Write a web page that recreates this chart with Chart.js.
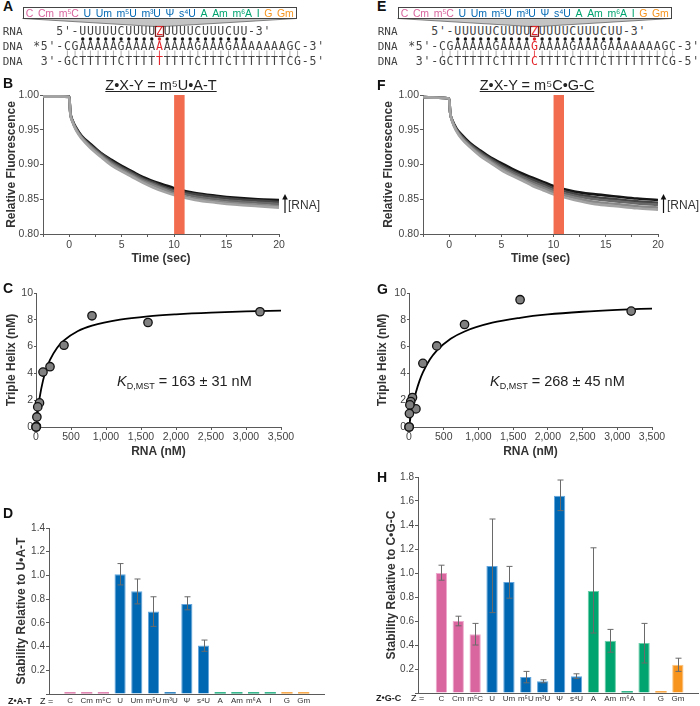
<!DOCTYPE html>
<html>
<head>
<meta charset="utf-8">
<title>Triplex stability</title>
<script src="https://cdn.jsdelivr.net/npm/chart.js@4.4.1/dist/chart.umd.min.js"></script>
<style>
  body { margin: 0; background: #fff; }
  #fig { position: relative; width: 700px; height: 706px; overflow: hidden; font-family: "Liberation Sans", Arial, sans-serif; color: #333; }
  #fig canvas { position: absolute; }
  .t { position: absolute; white-space: nowrap; line-height: 1; }
  .letter { font-weight: bold; font-size: 14px; color: #111; }
  .ttl { font-size: 14.5px; text-decoration: underline; transform: translateX(-50%); color: #222; }
  .kd { font-size: 14.5px; color: #222; }
  .kd sub { font-size: 9px; vertical-align: -3px; line-height: 1; }
  .seq { font-family: "DejaVu Sans Mono", monospace; font-size: 11.5px; letter-spacing: 0.75px; color: #444; white-space: pre; }
  .nm { font-family: "DejaVu Sans Mono", monospace; font-size: 11px; color: #444; }
  .red { color: #e3262b; }
  .mods { position: absolute; display: flex; justify-content: space-between; align-items: center; box-sizing: border-box; border: 1px solid #444; background: #fff; font-size: 10.5px; letter-spacing: -0.2px; padding: 0 2px; line-height: 1; }
  .zl { font-size: 9px; color: #222; }
</style>
</head>
<body>
<div id="fig">
  <svg id="deco" width="700" height="706" style="position:absolute;left:0;top:0"></svg>
  <canvas id="chartB" width="292" height="186" style="left:4px;top:80px"></canvas>
  <canvas id="chartF" width="294" height="186" style="left:381px;top:80px"></canvas>
  <canvas id="chartC" width="296" height="179" style="left:4px;top:280px"></canvas>
  <canvas id="chartG" width="300" height="179" style="left:375px;top:280px"></canvas>
  <canvas id="chartD" width="326" height="191" style="left:14px;top:515px"></canvas>
  <canvas id="chartH" width="316" height="241" style="left:384px;top:465px"></canvas>

  <div class="t letter" style="left:3px;top:-1px">A</div>
  <div class="t letter" style="left:3px;top:76px">B</div>
  <div class="t letter" style="left:3px;top:281px">C</div>
  <div class="t letter" style="left:3px;top:506px">D</div>
  <div class="t letter" style="left:377px;top:-1px">E</div>
  <div class="t letter" style="left:377px;top:78px">F</div>
  <div class="t letter" style="left:377px;top:282px">G</div>
  <div class="t letter" style="left:377px;top:470px">H</div>

  <div class="t ttl" style="left:161px;top:78px">Z•X-Y = m⁵U•A-T</div>
  <div class="t ttl" style="left:537px;top:78px">Z•X-Y = m⁵C•G-C</div>
  <div class="t" style="left:288px;top:199px;font-size:12px">[RNA]</div>
  <div class="t" style="left:667px;top:199px;font-size:12px">[RNA]</div>

  <div class="t kd" style="left:117px;top:374px"><i>K</i><sub>D,MST</sub> = 163 ± 31 nM</div>
  <div class="t kd" style="left:490px;top:374px"><i>K</i><sub>D,MST</sub> = 268 ± 45 nM</div>

  <div class="t zl" style="left:8px;top:697px;font-weight:bold">Z•A-T</div>
  <div class="t zl" style="left:40px;top:697px">Z =</div>
  <div class="t zl" style="left:376px;top:694px;font-weight:bold">Z•G-C</div>
  <div class="t zl" style="left:411px;top:694px">Z =</div>
</div>

<script>
// modified nucleotides at position Z (also the bar categories)
const zLabels = ['C', 'Cm', 'm⁵C', 'U', 'Um', 'm⁵U', 'm³U', 'Ψ', 's⁴U', 'A', 'Am', 'm⁶A', 'I', 'G', 'Gm'];
const zGroup = [0, 0, 0, 1, 1, 1, 1, 1, 1, 2, 2, 2, 2, 3, 3];
const groupFill = ['#d9669f', '#0068b3', '#00a46f', '#f7941d'];
const groupEdge = ['#eeaacd', '#64a6dd', '#6bcfa9', '#fbc47e'];

// B / F: MST traces, lightest (lowest [RNA]) first
const timeSec = [-2.5, -1, 0, 0.1, 0.3, 0.7, 1.2, 2, 3, 4, 5, 6, 7, 8, 9, 10, 12, 14, 16, 18, 20];
const fluorB = [
  [0.998, 0.998, 0.997, 0.974, 0.962, 0.948, 0.937, 0.924, 0.911, 0.899, 0.890, 0.882, 0.874, 0.867, 0.861, 0.856, 0.849, 0.845, 0.842, 0.840, 0.838],
  [0.998, 0.998, 0.997, 0.974, 0.962, 0.949, 0.938, 0.926, 0.913, 0.901, 0.892, 0.884, 0.876, 0.870, 0.864, 0.858, 0.851, 0.847, 0.844, 0.842, 0.840],
  [0.999, 0.999, 0.998, 0.975, 0.963, 0.950, 0.939, 0.927, 0.914, 0.903, 0.894, 0.886, 0.878, 0.872, 0.866, 0.861, 0.854, 0.850, 0.847, 0.845, 0.843],
  [0.999, 0.999, 0.998, 0.975, 0.963, 0.951, 0.940, 0.928, 0.916, 0.905, 0.896, 0.888, 0.880, 0.874, 0.868, 0.863, 0.857, 0.853, 0.850, 0.848, 0.846],
  [0.999, 0.999, 0.998, 0.976, 0.964, 0.952, 0.941, 0.930, 0.917, 0.907, 0.898, 0.890, 0.882, 0.876, 0.871, 0.866, 0.859, 0.855, 0.852, 0.850, 0.849]
];
const fluorF = [
  [0.997, 0.996, 0.995, 0.975, 0.962, 0.948, 0.937, 0.925, 0.912, 0.902, 0.892, 0.884, 0.877, 0.869, 0.863, 0.857, 0.849, 0.843, 0.840, 0.837, 0.835],
  [0.997, 0.996, 0.995, 0.975, 0.962, 0.949, 0.938, 0.926, 0.914, 0.904, 0.894, 0.886, 0.879, 0.872, 0.866, 0.860, 0.852, 0.846, 0.843, 0.840, 0.838],
  [0.997, 0.996, 0.995, 0.975, 0.963, 0.950, 0.940, 0.928, 0.916, 0.906, 0.897, 0.889, 0.882, 0.875, 0.869, 0.863, 0.855, 0.850, 0.847, 0.844, 0.842],
  [0.997, 0.996, 0.995, 0.975, 0.963, 0.951, 0.941, 0.929, 0.918, 0.908, 0.899, 0.891, 0.884, 0.878, 0.872, 0.866, 0.858, 0.853, 0.850, 0.847, 0.845],
  [0.997, 0.996, 0.995, 0.975, 0.964, 0.952, 0.943, 0.931, 0.920, 0.910, 0.902, 0.894, 0.887, 0.881, 0.875, 0.869, 0.861, 0.857, 0.854, 0.851, 0.849]
];
const traceColors = ['#a3a3a3', '#878787', '#686868', '#444444', '#151515'];

// C / G: binding curves
const rnaNM = [3200, 1600, 800, 400, 200, 100, 50, 25, 12.5, 6.25, 3.13, 1.56];
const helixC = [8.6, 7.8, 8.3, 6.1, 4.5, 4.1, 1.8, 1.5, 0.75, 0.05, 0, 0];
const helixG = [8.65, 9.5, 7.65, 6.05, 4.75, 1.35, 2.2, 1.9, 1.65, 1.0, 0, 0];
const fitNM = [0, 25, 50, 100, 150, 200, 300, 400, 600, 800, 1200, 1600, 2000, 2500, 3000, 3500];
const fitC = [0, 1.21, 2.14, 3.46, 4.36, 5.01, 5.90, 6.46, 7.16, 7.56, 8.01, 8.26, 8.41, 8.54, 8.63, 8.69];
const fitG = [0, 0.81, 1.50, 2.59, 3.42, 4.07, 5.03, 5.70, 6.58, 7.13, 7.78, 8.15, 8.40, 8.60, 8.74, 8.84];

// D / H: relative stability with error ranges
const stabD = [0.015, 0.015, 0.015, 1.01, 0.867, 0.696, 0.015, 0.76, 0.41, 0.015, 0.015, 0.015, 0.015, 0.015, 0.015];
const stabDLow = [null, null, null, 0.92, 0.76, 0.57, null, 0.71, 0.36, null, null, null, null, null, null];
const stabDHigh = [null, null, null, 1.10, 0.97, 0.82, null, 0.82, 0.455, null, null, null, null, null, null];
const stabH = [1.0, 0.60, 0.49, 1.058, 0.925, 0.133, 0.097, 1.644, 0.139, 0.85, 0.436, 0.015, 0.417, 0.015, 0.236];
const stabHLow = [0.94, 0.56, 0.40, 0.67, 0.79, 0.085, 0.085, 1.52, 0.12, 0.50, 0.34, null, 0.25, null, 0.18];
const stabHHigh = [1.065, 0.64, 0.58, 1.45, 1.055, 0.18, 0.11, 1.775, 0.16, 1.21, 0.53, null, 0.58, null, 0.29];

// sequences for panels A / E
const rnaLeft = 'UUUUUCUUUU', rnaRight = 'UUUUCUUUCUU';
const dnaLeft = 'CGAAAAAGAAAA', dnaRight = 'AAAAGAAAGAAAAAAAGC';
const cmpLeft = 'GCTTTTTCTTTT', cmpRight = 'TTTTCTTTCTTTTTTTCG';

Chart.defaults.font.family = '"Liberation Sans", Arial, sans-serif';
Chart.defaults.color = '#333';
Chart.defaults.animation = false;
Chart.defaults.responsive = false;
Chart.defaults.plugins.legend.display = false;
Chart.defaults.plugins.tooltip.enabled = false;

const axisGrey = '#5a5a5a';
const tickFont = { size: 10.5 };
const titleFont = { size: 12, weight: 'bold' };

function bandPlugin(from, to) {
  return {
    id: 'band',
    afterDatasetsDraw(chart) {
      const { ctx, chartArea, scales } = chart;
      const x0 = scales.x.getPixelForValue(from);
      const x1 = scales.x.getPixelForValue(to);
      ctx.save();
      ctx.fillStyle = '#f26d4f';
      ctx.fillRect(x0, chartArea.top, x1 - x0, chartArea.bottom - chartArea.top);
      ctx.restore();
    }
  };
}

function errorPlugin(lo, hi) {
  return {
    id: 'errors',
    afterDatasetsDraw(chart) {
      const { ctx, scales: { x, y } } = chart;
      ctx.save();
      ctx.strokeStyle = '#6a6a6a';
      ctx.lineWidth = 1;
      lo.forEach((l, i) => {
        if (l == null) return;
        const px = Math.round(x.getPixelForValue(i)) + 0.5;
        const y1 = y.getPixelForValue(l), y2 = y.getPixelForValue(hi[i]);
        ctx.beginPath();
        ctx.moveTo(px, y1); ctx.lineTo(px, y2);
        ctx.moveTo(px - 3, y1); ctx.lineTo(px + 3, y1);
        ctx.moveTo(px - 3, y2); ctx.lineTo(px + 3, y2);
        ctx.stroke();
      });
      ctx.restore();
    }
  };
}

function kineticChart(id, traces, yWidth, padRight) {
  const datasets = traces.map((vals, k) => ({
    data: timeSec.map((t, i) => ({ x: t, y: vals[i] })),
    borderColor: traceColors[k],
    borderWidth: 2.6,
    pointRadius: 0,
    cubicInterpolationMode: 'monotone'
  }));
  return new Chart(document.getElementById(id), {
    type: 'line',
    data: { datasets },
    options: {
      layout: { padding: { top: 15, right: padRight, left: 0, bottom: 0 } },
      scales: {
        x: {
          type: 'linear', min: -2.5, max: 20,
          border: { color: axisGrey },
          grid: { drawOnChartArea: false, color: axisGrey, tickLength: 3 },
          ticks: { stepSize: 2.5, font: tickFont, color: '#444', padding: 2, maxRotation: 0, autoSkip: false,
                   callback: v => Math.abs(v % 5) < 1e-6 ? String(Math.round(v)) : '' },
          title: { display: true, text: 'Time (sec)', font: titleFont, color: '#333', padding: 0 },
          afterFit: s => { s.height = 32; }
        },
        y: {
          min: 0.8, max: 1.0,
          border: { color: axisGrey },
          grid: { drawOnChartArea: false, color: axisGrey, tickLength: 3 },
          ticks: { stepSize: 0.05, font: tickFont, color: '#444', padding: 1, callback: v => v.toFixed(2) },
          title: { display: true, text: 'Relative Fluorescence', font: titleFont, color: '#333', padding: 0 },
          afterFit: s => { s.width = yWidth; }
        }
      }
    },
    plugins: [bandPlugin(10, 11)]
  });
}

function bindingChart(id, helix, fit, yWidth, padRight) {
  return new Chart(document.getElementById(id), {
    type: 'scatter',
    data: {
      datasets: [
        { data: rnaNM.map((x, i) => ({ x, y: helix[i] })), pointRadius: 4.2,
          pointBackgroundColor: '#808080', pointBorderColor: '#111', pointBorderWidth: 1.3, clip: false, order: 0 },
        { type: 'line', data: fitNM.map((x, i) => ({ x, y: fit[i] })), borderColor: '#000', borderWidth: 1.8,
          pointRadius: 0, cubicInterpolationMode: 'monotone', showLine: true, order: 1 }
      ]
    },
    options: {
      layout: { padding: { top: 13, right: padRight, left: 0, bottom: 0 } },
      scales: {
        x: {
          type: 'linear', min: 0, max: 3500,
          border: { color: axisGrey },
          grid: { drawOnChartArea: false, color: axisGrey, tickLength: 3 },
          ticks: { stepSize: 500, font: tickFont, color: '#444', padding: 1, maxRotation: 0, autoSkip: false,
                   callback: v => v.toLocaleString('en-US') },
          title: { display: true, text: 'RNA (nM)', font: titleFont, color: '#333', padding: 0 },
          afterFit: s => { s.height = 32; }
        },
        y: {
          min: 0, max: 10,
          border: { color: axisGrey },
          grid: { drawOnChartArea: false, color: axisGrey, tickLength: 2 },
          ticks: { stepSize: 2, font: tickFont, color: '#444', padding: 1 },
          title: { display: true, text: 'Triple Helix (nM)', font: titleFont, color: '#333', padding: 0 },
          afterFit: s => { s.width = yWidth; }
        }
      }
    }
  });
}

function barChart(id, vals, lo, hi, opt) {
  return new Chart(document.getElementById(id), {
    type: 'bar',
    data: {
      datasets: [{
        data: vals.map((v, i) => ({ x: i, y: v })),
        backgroundColor: zGroup.map(g => groupFill[g]),
        borderColor: zGroup.map(g => groupEdge[g]),
        borderWidth: vals.map(v => (v < 0.05 ? 0 : 1)),
        barPercentage: 0.67,
        categoryPercentage: 1
      }]
    },
    options: {
      layout: { padding: { top: opt.padTop, right: opt.padRight, left: 0, bottom: 0 } },
      scales: {
        x: {
          type: 'linear', min: opt.xMin, max: opt.xMax,
          border: { color: axisGrey },
          grid: { display: false, drawTicks: false, tickLength: 0 },
          afterBuildTicks: s => { s.ticks = zLabels.map((_, i) => ({ value: i })); },
          ticks: { font: { size: 8, lineHeight: 1 }, color: '#333', padding: opt.labelPad, maxRotation: 0, autoSkip: false,
                   callback: v => zLabels[v] },
          afterFit: s => { s.height = opt.xHeight; }
        },
        y: {
          min: 0, max: opt.yMax,
          border: { color: axisGrey },
          grid: { drawOnChartArea: false, color: axisGrey, tickLength: 3 },
          ticks: { stepSize: 0.2, font: { size: 10 }, color: '#444', padding: 1,
                   callback: v => v === 0 ? '' : v.toFixed(1) },
          title: { display: true, text: opt.yTitle, font: titleFont, color: '#333', padding: 0 },
          afterFit: s => { s.width = opt.yWidth; }
        }
      }
    },
    plugins: [errorPlugin(lo, hi)]
  });
}

kineticChart('chartB', fluorB, 39, 17);
kineticChart('chartF', fluorF, 42, 17);
bindingChart('chartC', helixC, fitC, 32, 19);
bindingChart('chartG', helixG, fitG, 34, 23);
barChart('chartD', stabD, stabDLow, stabDHigh, {
  xMin: -0.711, xMax: 14.67, yMax: 1.4, yTitle: 'Stability Relative to U•A-T',
  padTop: 13, padRight: 16, xHeight: 12, labelPad: 3, yWidth: 35
});
barChart('chartH', stabH, stabHLow, stabHHigh, {
  xMin: -0.83, xMax: 14.64, yMax: 1.8, yTitle: 'Stability Relative to C•G-C',
  padTop: 12, padRight: 2, xHeight: 13, labelPad: 1.5, yWidth: 34
});

// sequence panels A and E
const fig = document.getElementById('fig');
let svg = '';
function addText(html, left, top, cls) {
  const d = document.createElement('div');
  d.className = 't ' + cls;
  d.style.left = left + 'px';
  d.style.top = top + 'px';
  d.innerHTML = html;
  fig.appendChild(d);
}
const col = c => 36.7 + c * 7.673;

function seqPanel(dx, mid, midComp) {
  addText('RNA', 2.7 + dx, 26.4, 'nm');
  addText('DNA', 2.7 + dx, 40.7, 'nm');
  addText('DNA', 2.7 + dx, 56.4, 'nm');
  addText(`   5'-${rnaLeft}<span class="red">Z</span>${rnaRight}-3'`, 33.2 + dx, 26.2, 'seq');
  addText(`*5'-${dnaLeft}<span class="red">${mid}</span>${dnaRight}-3'`, 33.2 + dx, 40.5, 'seq');
  addText(` 3'-${cmpLeft}<span class="red">${midComp}</span>${cmpRight}-5'`, 33.2 + dx, 56.2, 'seq');

  const box = document.createElement('div');
  box.className = 'mods';
  box.style.left = (22.7 + dx) + 'px';
  box.style.top = '7.3px';
  box.style.width = '274px';
  box.style.height = '11.5px';
  box.innerHTML = zLabels.map((z, i) => `<span style="color:${groupFill[zGroup[i]]}">${z}</span>`).join('');
  fig.appendChild(box);

  const zc = col(16) + dx;
  svg += `<polygon points="${22.7 + dx},18.5 ${296.7 + dx},18.5 ${zc + 4},26.5 ${zc - 4},26.5" fill="#c4c4c4" stroke="#666" stroke-width="0.8"/>`;
  svg += `<rect x="${zc - 4}" y="26.5" width="8" height="9.8" fill="none" stroke="#7a1c1c" stroke-width="1.2"/>`;
  for (let c = 6; c <= 27; c++) {
    svg += `<circle cx="${col(c) + dx}" cy="39" r="1.7" fill="${c === 16 ? '#e3262b' : '#111'}"/>`;
  }
  for (let c = 4; c <= 34; c++) {
    svg += `<line x1="${col(c) + dx}" y1="50.5" x2="${col(c) + dx}" y2="57" stroke="${c === 16 ? '#e3262b' : '#999'}" stroke-width="0.8"/>`;
  }
}
seqPanel(0, 'A', 'T');
seqPanel(375, 'G', 'C');

// [RNA] arrows
for (const ax of [285, 663.5]) {
  svg += `<line x1="${ax}" y1="213" x2="${ax}" y2="197" stroke="#111" stroke-width="1.2"/>`;
  svg += `<polygon points="${ax - 2.8},199.5 ${ax},194 ${ax + 2.8},199.5" fill="#111"/>`;
}
document.getElementById('deco').innerHTML = svg;
</script>
</body>
</html>
